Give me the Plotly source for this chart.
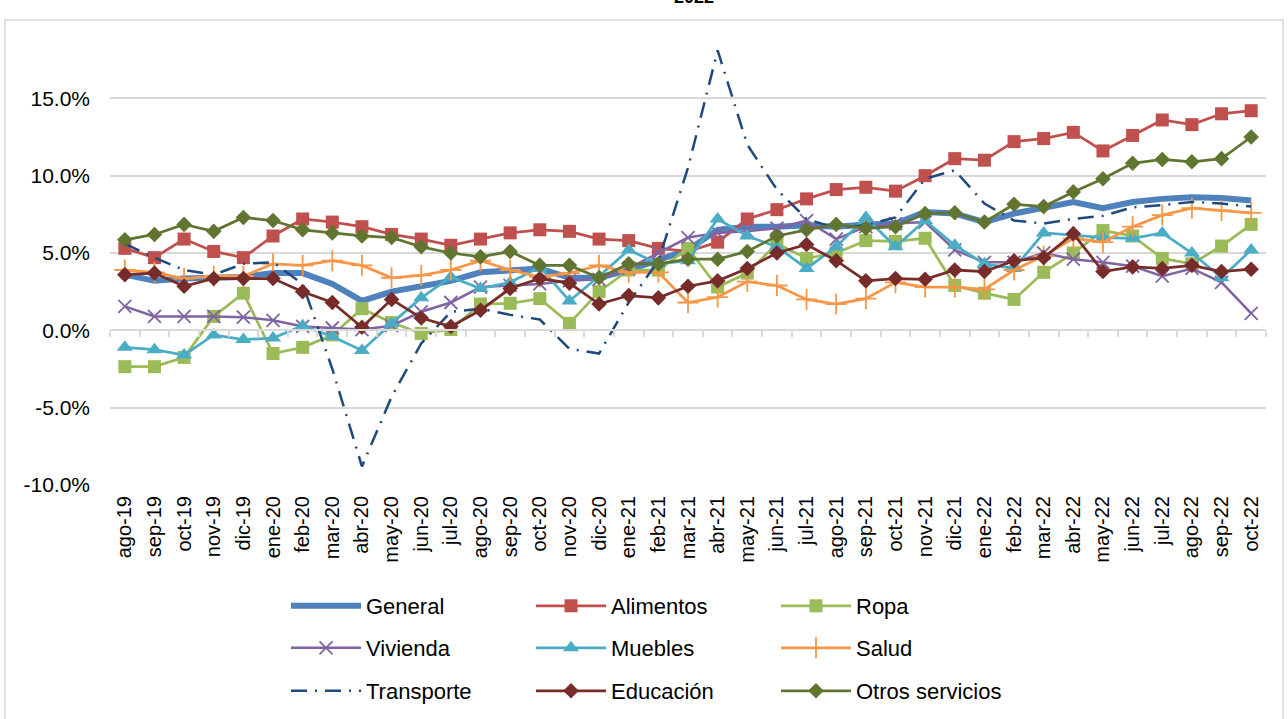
import plotly.graph_objects as go

months = ["ago-19","sep-19","oct-19","nov-19","dic-19","ene-20","feb-20","mar-20","abr-20","may-20",
          "jun-20","jul-20","ago-20","sep-20","oct-20","nov-20","dic-20","ene-21","feb-21","mar-21",
          "abr-21","may-21","jun-21","jul-21","ago-21","sep-21","oct-21","nov-21","dic-21","ene-22",
          "feb-22","mar-22","abr-22","may-22","jun-22","jul-22","ago-22","sep-22","oct-22"]

general = [3.6,3.2,3.35,3.4,3.45,3.7,3.7,3.0,1.9,2.5,2.85,3.2,3.75,3.9,4.0,3.4,3.4,3.9,4.5,5.2,
           6.5,6.7,6.7,6.8,6.7,6.85,6.9,7.65,7.55,7.0,7.55,7.9,8.3,7.9,8.3,8.5,8.6,8.55,8.4]
alimentos = [5.3,4.7,5.9,5.1,4.7,6.1,7.2,7.0,6.7,6.2,5.9,5.5,5.9,6.3,6.5,6.4,5.9,5.8,5.3,5.1,
             5.7,7.2,7.8,8.5,9.1,9.25,9.0,10.0,11.1,11.0,12.2,12.4,12.8,11.6,12.6,13.6,13.3,14.0,14.2]
ropa = [-2.35,-2.35,-1.75,0.9,2.4,-1.5,-1.1,-0.3,1.4,0.5,-0.2,0.05,1.7,1.75,2.05,0.45,2.5,3.9,3.9,5.3,
        2.8,3.7,5.6,4.65,5.0,5.8,5.75,5.95,2.9,2.4,2.0,3.75,5.0,6.45,6.1,4.65,4.3,5.45,6.85]
vivienda = [1.55,0.9,0.9,0.9,0.85,0.65,0.25,0.15,0.05,0.3,1.2,1.8,2.8,2.9,3.0,3.2,3.3,4.0,5.0,6.0,
            6.3,6.4,6.6,7.1,5.9,6.7,6.9,7.0,5.2,4.4,4.4,5.0,4.6,4.4,4.15,3.5,4.0,3.1,1.1]
muebles = [-1.1,-1.25,-1.6,-0.3,-0.6,-0.5,0.3,-0.4,-1.3,0.45,2.1,3.45,2.7,3.1,4.1,1.9,3.5,5.2,4.3,4.5,
           7.2,6.1,5.4,4.0,5.4,7.3,5.4,7.1,5.5,4.3,4.0,6.3,6.15,6.0,5.95,6.3,5.0,3.4,5.2]
salud = [3.9,3.75,3.35,3.5,3.5,4.3,4.2,4.5,4.2,3.4,3.55,3.9,4.5,3.9,3.45,3.7,4.2,3.75,3.75,1.8,
         2.15,3.15,2.9,2.0,1.7,2.05,3.1,2.8,2.8,2.65,3.9,4.8,5.95,5.7,6.7,7.45,7.9,7.75,7.6]
transporte = [5.6,4.7,3.9,3.6,4.3,4.4,3.0,-2.5,-8.8,-4.3,-0.85,1.2,1.4,1.0,0.7,-1.2,-1.5,1.8,4.5,10.5,
              18.1,12.0,9.1,7.2,6.6,6.8,7.3,9.8,10.35,8.2,7.1,6.9,7.2,7.4,7.95,8.1,8.3,8.2,8.0]
educacion = [3.6,3.7,2.85,3.35,3.35,3.35,2.5,1.8,0.2,2.0,0.8,0.25,1.3,2.7,3.35,3.05,1.7,2.25,2.1,2.85,
             3.2,4.0,5.0,5.55,4.5,3.2,3.35,3.3,3.9,3.8,4.5,4.7,6.25,3.8,4.1,4.0,4.2,3.8,3.95]
otros = [5.85,6.2,6.85,6.4,7.3,7.1,6.5,6.3,6.1,6.0,5.4,5.0,4.75,5.1,4.2,4.2,3.4,4.3,4.3,4.6,
         4.6,5.1,6.1,6.5,6.85,6.6,6.7,7.55,7.6,7.0,8.15,8.0,8.95,9.8,10.8,11.05,10.9,11.1,12.5]

ytick_vals = [-10, -5, 0, 5, 10, 15]
ytick_text = ["-10.0%", "-5.0%", "0.0%", "5.0%", "10.0%", "15.0%"]
title_text = "2022"

W, H = 1288, 719
ML, MR, MT, MB = 110, 22, 21, 234
PW, PH = W - ML - MR, H - MT - MB

def px_x(x):
    return (x - ML) / PW

def px_y(y):
    return (H - MB - y) / PH

FONT = "Liberation Sans, Arial, sans-serif"

series = [
    # name, values, color, width, dash, symbol, size, legend
    ("General", general, "#4F81BD", 6, "solid", None, 0, "legend"),
    ("Alimentos", alimentos, "#C0504D", 2.75, "solid", "square", 13, "legend"),
    ("Ropa", ropa, "#9BBB59", 2.75, "solid", "square", 13, "legend"),
    ("Vivienda", vivienda, "#8064A2", 2.5, "solid", "x-thin", 13, "legend2"),
    ("Muebles", muebles, "#4BACC6", 2.75, "solid", "triangle-up", 14, "legend2"),
    ("Salud", salud, "#F79646", 2.75, "solid", "cross-thin", 15, "legend2"),
    ("Transporte", transporte, "#1F497D", 2.5, "16px,8px,2px,8px", None, 0, "legend3"),
    ("Educación", educacion, "#772C2A", 2.75, "solid", "diamond", 12, "legend3"),
    ("Otros servicios", otros, "#5F7530", 2.75, "solid", "diamond", 12, "legend3"),
]

fig = go.Figure()

# invisible trace carrying the category axis drawn at 0%
fig.add_trace(go.Scatter(x=months, y=general, xaxis="x2", mode="lines",
                         line=dict(width=0), opacity=0, showlegend=False, hoverinfo="skip"))

for name, vals, color, width, dash, sym, size, leg in series:
    if sym is None:
        fig.add_trace(go.Scatter(x=months, y=vals, name=name, mode="lines",
                                 line=dict(color=color, width=width, dash=dash),
                                 legend=leg))
    else:
        thin = sym.endswith("-thin")
        fig.add_trace(go.Scatter(x=months, y=vals, name=name, mode="lines+markers",
                                 line=dict(color=color, width=width, dash=dash),
                                 marker=dict(symbol=sym, size=size, color=color,
                                             line=dict(color=color, width=1.8 if thin else 0)),
                                 legend=leg))

leg_common = dict(orientation="h", xref="container", yref="container",
                  xanchor="left", yanchor="middle", entrywidth=160, entrywidthmode="pixels",
                  itemwidth=70, font=dict(family=FONT, size=22, color="#000000"),
                  bgcolor="rgba(0,0,0,0)", traceorder="normal")

fig.update_layout(
    width=W, height=H,
    margin=dict(l=ML, r=MR, t=MT, b=MB),
    paper_bgcolor="white", plot_bgcolor="white",
    font=dict(family=FONT, size=20, color="#000000"),
    xaxis=dict(type="category", categoryarray=months, categoryorder="array",
               range=[-0.5, len(months) - 0.5], showgrid=False, showline=False,
               ticks="", tickangle=-90, tickfont=dict(size=20), ticklabelstandoff=6),
    xaxis2=dict(type="category", categoryarray=months, categoryorder="array",
                range=[-0.5, len(months) - 0.5], overlaying="x", anchor="free",
                position=(0 - (-10)) / 30, showgrid=False, showline=True,
                linecolor="#D9D9D9", linewidth=1.5, ticks="outside", ticklen=6,
                tickcolor="#D9D9D9", tickwidth=1.5, tickson="boundaries",
                showticklabels=False),
    yaxis=dict(range=[-10, 20], tickvals=ytick_vals, ticktext=ytick_text,
               showgrid=True, gridcolor="#D9D9D9", gridwidth=1.5, zeroline=False,
               showline=False, ticks="", tickfont=dict(size=21), ticklabelstandoff=19),
    legend=dict(x=286 / W, y=1 - 606 / H, **leg_common),
    legend2=dict(x=286 / W, y=1 - 648 / H, **leg_common),
    legend3=dict(x=286 / W, y=1 - 691 / H, **leg_common),
    showlegend=True,
)

fig.add_shape(type="rect", xref="paper", yref="paper",
              x0=px_x(5), x1=px_x(1283), y0=px_y(725), y1=px_y(20),
              line=dict(color="#D9D9D9", width=1.5), fillcolor="rgba(0,0,0,0)", layer="below")

fig.add_annotation(text=title_text, xref="paper", yref="paper", x=px_x(694), y=px_y(-3),
                   showarrow=False, font=dict(family=FONT, size=18, color="#000000"),
                   xanchor="center", yanchor="middle")
fig.layout.annotations[0].font.weight = "bold"

fig.write_html("out.html", config={"displayModeBar": False},
               post_script="document.body.style.margin='0';")
